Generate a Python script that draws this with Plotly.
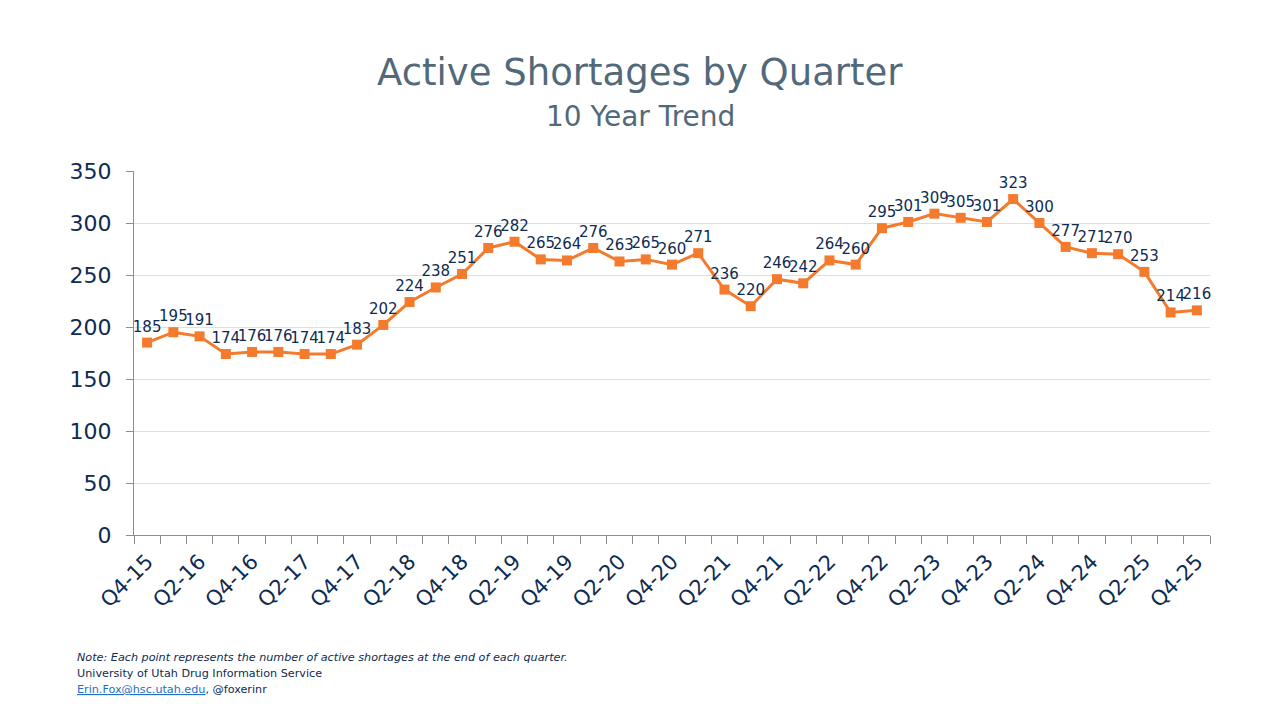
import plotly.graph_objects as go

quarters = ["Q4-15","Q1-16","Q2-16","Q3-16","Q4-16","Q1-17","Q2-17","Q3-17","Q4-17","Q1-18",
            "Q2-18","Q3-18","Q4-18","Q1-19","Q2-19","Q3-19","Q4-19","Q1-20","Q2-20","Q3-20",
            "Q4-20","Q1-21","Q2-21","Q3-21","Q4-21","Q1-22","Q2-22","Q3-22","Q4-22","Q1-23",
            "Q2-23","Q3-23","Q4-23","Q1-24","Q2-24","Q3-24","Q4-24","Q1-25","Q2-25","Q3-25","Q4-25"]
shortages = [185,195,191,174,176,176,174,174,183,202,224,238,251,276,282,265,264,276,263,265,
             260,271,236,220,246,242,264,260,295,301,309,305,301,323,300,277,271,270,253,214,216]
y_ticks = [0,50,100,150,200,250,300,350]

xs = list(range(len(quarters)))
label_idx = xs[::2]

NAVY = "#0E2B52"
fig = go.Figure()
fig.add_trace(go.Scatter(
    x=xs, y=shortages, mode="lines+markers+text",
    line=dict(color="#F47B2E", width=3),
    marker=dict(symbol="square", size=10, color="#F47B2E"),
    text=[str(v) for v in shortages], textposition="top center",
    textfont=dict(family="DejaVu Sans", size=15, color=NAVY),
    cliponaxis=False, hoverinfo="skip"))

fig.update_layout(
    width=1280, height=720, paper_bgcolor="white", plot_bgcolor="white",
    margin=dict(l=126, r=78, t=163, b=193, autoexpand=False), showlegend=False,
    xaxis=dict(range=[-0.5, len(quarters)-0.5], tickmode="array", automargin=False,
               tickvals=label_idx, ticktext=[quarters[i] for i in label_idx],
               tickangle=-45, ticks="", showgrid=False, zeroline=False,
               showline=True, linecolor="#8C8C96", linewidth=1,
               ticklabelstandoff=5,
               tickfont=dict(family="DejaVu Sans", size=21, color=NAVY),
               minor=dict(tickmode="linear", tick0=-0.5, dtick=1, ticks="outside",
                          ticklen=8, tickcolor="#8C8C96", showgrid=False)),
    yaxis=dict(range=[0, 350], tickmode="array", tickvals=y_ticks, automargin=False,
               showgrid=True, gridcolor="#DCDFE6", gridwidth=1, zeroline=False,
               showline=True, linecolor="#8C8C96", linewidth=1,
               ticks="outside", ticklen=7, tickcolor="#8C8C96", ticklabelstandoff=10,
               tickfont=dict(family="DejaVu Sans", size=22, color=NAVY)),
)

cx = (640-134)/1076
fig.add_annotation(text="Active Shortages by Quarter", xref="paper", yref="paper",
                   x=cx, y=1+(171-72)/364, xanchor="center", yanchor="middle",
                   showarrow=False, font=dict(family="DejaVu Sans", size=37, color="#52697A"))
fig.add_annotation(text="10 Year Trend", xref="paper", yref="paper",
                   x=cx, y=1+(171-116)/364, xanchor="center", yanchor="middle",
                   showarrow=False, font=dict(family="DejaVu Sans", size=28, color="#52697A"))

foot_x = (75-134)/1076
foot_font = dict(family="DejaVu Sans", size=11.2, color=NAVY)
fig.add_annotation(text="<i>Note: Each point represents the number of active shortages at the end of each quarter.</i>",
                   xref="paper", yref="paper", x=foot_x, y=-(657-535)/364, xanchor="left", yanchor="middle",
                   showarrow=False, font=foot_font)
fig.add_annotation(text="University of Utah Drug Information Service",
                   xref="paper", yref="paper", x=foot_x, y=-(673-535)/364, xanchor="left", yanchor="middle",
                   showarrow=False, font=foot_font)
fig.add_annotation(text="<span style='color:#1F6FC5'><u>Erin.Fox@hsc.utah.edu</u></span>, @foxerinr",
                   xref="paper", yref="paper", x=foot_x, y=-(689-535)/364, xanchor="left", yanchor="middle",
                   showarrow=False, font=foot_font)

fig.write_html("out.html")
